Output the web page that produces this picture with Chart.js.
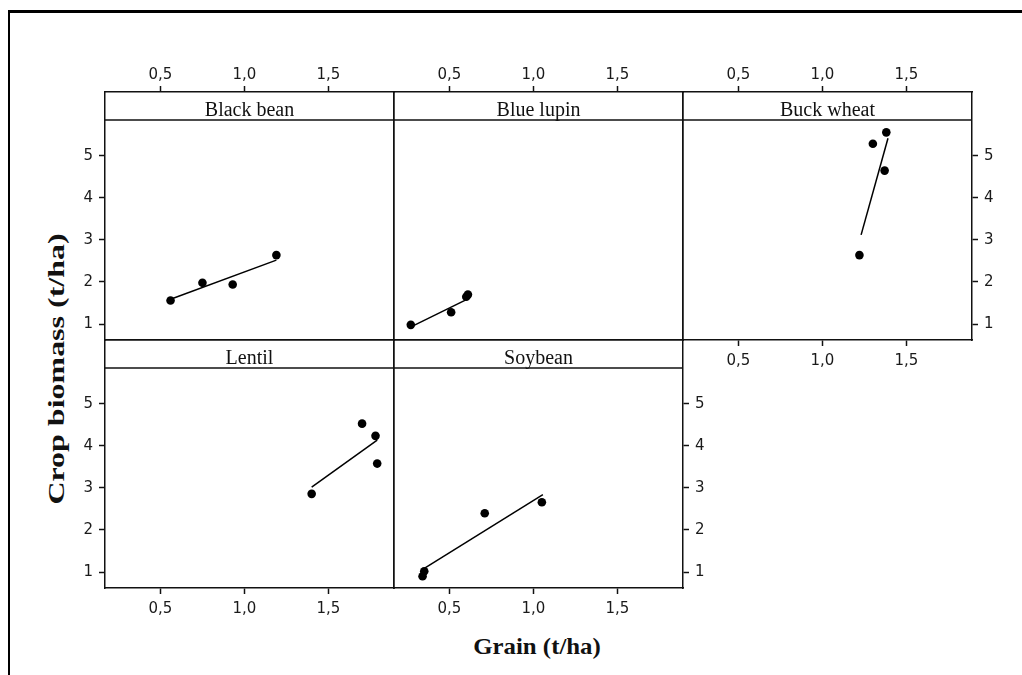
<!DOCTYPE html>
<html>
<head>
<meta charset="utf-8">
<script src="https://cdn.jsdelivr.net/npm/chart.js@4.4.1/dist/chart.umd.min.js"></script>
<style>
  html, body { margin: 0; padding: 0; background: #fff; overflow: hidden; }
  #wrap { position: relative; width: 1022px; height: 675px; }
  #wrap canvas { position: absolute; }
  .frame { position: absolute; left: 8px; top: 10px; width: 1100px; height: 700px;
           border-top: 3px solid #000; border-left: 2px solid #000; }
  .title { position: absolute; font: bold 23px "Liberation Serif", serif; color: #111;
           white-space: nowrap; line-height: 1; }
</style>
</head>
<body>
<div id="wrap">
  <div class="frame"></div>
  <div class="title" id="ytitle">Crop biomass (t/ha)</div>
  <div class="title" id="xtitle">Grain (t/ha)</div>
</div>
<script>
// values
const panelNames = ["Black bean", "Blue lupin", "Buck wheat", "Lentil", "Soybean"];

const blackBeanGrain = [0.56, 0.75, 0.93, 1.19];
const blackBeanBiomass = [1.56, 1.98, 1.94, 2.64];
const blackBeanFitGrain = [0.56, 1.19];
const blackBeanFitBiomass = [1.59, 2.52];

const blueLupinGrain = [0.27, 0.51, 0.60, 0.61];
const blueLupinBiomass = [0.98, 1.28, 1.65, 1.70];
const blueLupinFitGrain = [0.28, 0.61];
const blueLupinFitBiomass = [0.95, 1.60];

const buckWheatGrain = [1.22, 1.30, 1.37, 1.38];
const buckWheatBiomass = [2.64, 5.29, 4.65, 5.56];
const buckWheatFitGrain = [1.23, 1.39];
const buckWheatFitBiomass = [3.12, 5.42];

const lentilGrain = [1.40, 1.70, 1.78, 1.79];
const lentilBiomass = [2.86, 4.53, 4.24, 3.58];
const lentilFitGrain = [1.40, 1.79];
const lentilFitBiomass = [3.02, 4.14];

const soybeanGrain = [0.34, 0.35, 0.71, 1.05];
const soybeanBiomass = [0.90, 1.02, 2.40, 2.66];
const soybeanFitGrain = [0.355, 1.056];
const soybeanFitBiomass = [1.10, 2.84];

const xTicks = [0.5, 1.0, 1.5];
const yTicks = [1, 2, 3, 4, 5];

// layout of the trellis (pixels)
const COL_LEFT = [105, 394, 683];
const ROW_TOP = [92, 340];
const PANEL_W = 289;
const PANEL_H = 248;
const M = 60;          // room around each panel for axes
const STRIP_H = 28;    // strip with the panel name
const X_MIN = 0.17, X_MAX = 1.89;
const Y_MIN = 0.62, Y_MAX = 6.52; // top part of the range sits under the strip

const INK = "#111";
const TICK_FONT = { family: "DejaVu Sans", size: 15 };

// which sides carry ticks + labels
const panels = [
  { name: panelNames[0], col: 0, row: 0, top: true, bottom: false, left: true, right: false,
    gx: blackBeanGrain, gy: blackBeanBiomass, fx: blackBeanFitGrain, fy: blackBeanFitBiomass },
  { name: panelNames[1], col: 1, row: 0, top: true, bottom: false, left: false, right: false,
    gx: blueLupinGrain, gy: blueLupinBiomass, fx: blueLupinFitGrain, fy: blueLupinFitBiomass },
  { name: panelNames[2], col: 2, row: 0, top: true, bottom: true, left: false, right: true,
    gx: buckWheatGrain, gy: buckWheatBiomass, fx: buckWheatFitGrain, fy: buckWheatFitBiomass },
  { name: panelNames[3], col: 0, row: 1, top: false, bottom: true, left: true, right: false,
    gx: lentilGrain, gy: lentilBiomass, fx: lentilFitGrain, fy: lentilFitBiomass },
  { name: panelNames[4], col: 1, row: 1, top: false, bottom: true, left: false, right: true,
    gx: soybeanGrain, gy: soybeanBiomass, fx: soybeanFitGrain, fy: soybeanFitBiomass },
];

// draws the strip line and panel name inside the top of the plot box
const stripPlugin = {
  id: "strip",
  afterDraw(chart, args, opts) {
    const ctx = chart.ctx;
    const a = chart.chartArea;
    ctx.save();
    ctx.strokeStyle = INK;
    ctx.lineWidth = 1.5;
    ctx.beginPath();
    ctx.moveTo(a.left, a.top + STRIP_H);
    ctx.lineTo(a.right, a.top + STRIP_H);
    ctx.stroke();
    ctx.fillStyle = INK;
    ctx.font = '20px "Liberation Serif"';
    ctx.textAlign = "center";
    ctx.textBaseline = "alphabetic";
    ctx.fillText(opts.label, (a.left + a.right) / 2, a.top + 24);
    ctx.restore();
  },
};

function axis(position, show, ticksArr, min, max) {
  const horizontal = position === "top" || position === "bottom";
  let pad = 6;
  if (position === "top") pad = 2;
  if (position === "bottom") pad = 6;
  return {
    type: "linear",
    axis: horizontal ? "x" : "y",
    position: position,
    min: min,
    max: max,
    afterBuildTicks: (scale) => {
      scale.ticks = ticksArr.map((v) => ({ value: v }));
    },
    afterFit: (scale) => {
      if (horizontal) scale.height = M;
      else scale.width = M;
    },
    grid: {
      display: true,
      drawOnChartArea: false,
      drawTicks: show,
      tickLength: 6,
      tickWidth: 1.5,
      tickColor: INK,
    },
    border: { display: true, color: INK, width: 1.5 },
    ticks: {
      display: show,
      color: "#1a1a1a",
      font: TICK_FONT,
      padding: pad,
      maxRotation: 0,
      callback: (v) => (horizontal ? v.toFixed(1).replace(".", ",") : String(v)),
    },
  };
}

function makePanel(p) {
  const c = document.createElement("canvas");
  c.width = PANEL_W + 2 * M;
  c.height = PANEL_H + 2 * M;
  c.style.left = COL_LEFT[p.col] - M + "px";
  c.style.top = ROW_TOP[p.row] - M + "px";
  document.getElementById("wrap").appendChild(c);

  new Chart(c, {
    type: "scatter",
    data: {
      datasets: [
        {
          type: "scatter",
          data: p.gx.map((g, i) => ({ x: g, y: p.gy[i] })),
          xAxisID: "x",
          yAxisID: "y",
          pointRadius: 4.3,
          pointBackgroundColor: "#000",
          pointBorderWidth: 0,
        },
        {
          type: "line",
          data: p.fx.map((g, i) => ({ x: g, y: p.fy[i] })),
          xAxisID: "x",
          yAxisID: "y",
          borderColor: "#000",
          borderWidth: 1.5,
          pointRadius: 0,
          showLine: true,
          fill: false,
        },
      ],
    },
    options: {
      responsive: false,
      animation: false,
      layout: { padding: 0 },
      plugins: {
        legend: { display: false },
        tooltip: { enabled: false },
        strip: { label: p.name },
      },
      scales: {
        x: axis("bottom", p.bottom, xTicks, X_MIN, X_MAX),
        x2: axis("top", p.top, xTicks, X_MIN, X_MAX),
        y: axis("left", p.left, yTicks, Y_MIN, Y_MAX),
        y2: axis("right", p.right, yTicks, Y_MIN, Y_MAX),
      },
    },
    plugins: [stripPlugin],
  });
}

panels.forEach(makePanel);

// axis titles
const yt = document.getElementById("ytitle");
yt.style.left = "55.5px";
yt.style.top = "369px";
yt.style.transform = "translate(-50%, -50%) rotate(-90deg) scaleX(1.39)";
const xt = document.getElementById("xtitle");
xt.style.left = "537px";
xt.style.top = "646px";
xt.style.transform = "translate(-50%, -50%) scaleX(1.08)";
</script>
</body>
</html>
